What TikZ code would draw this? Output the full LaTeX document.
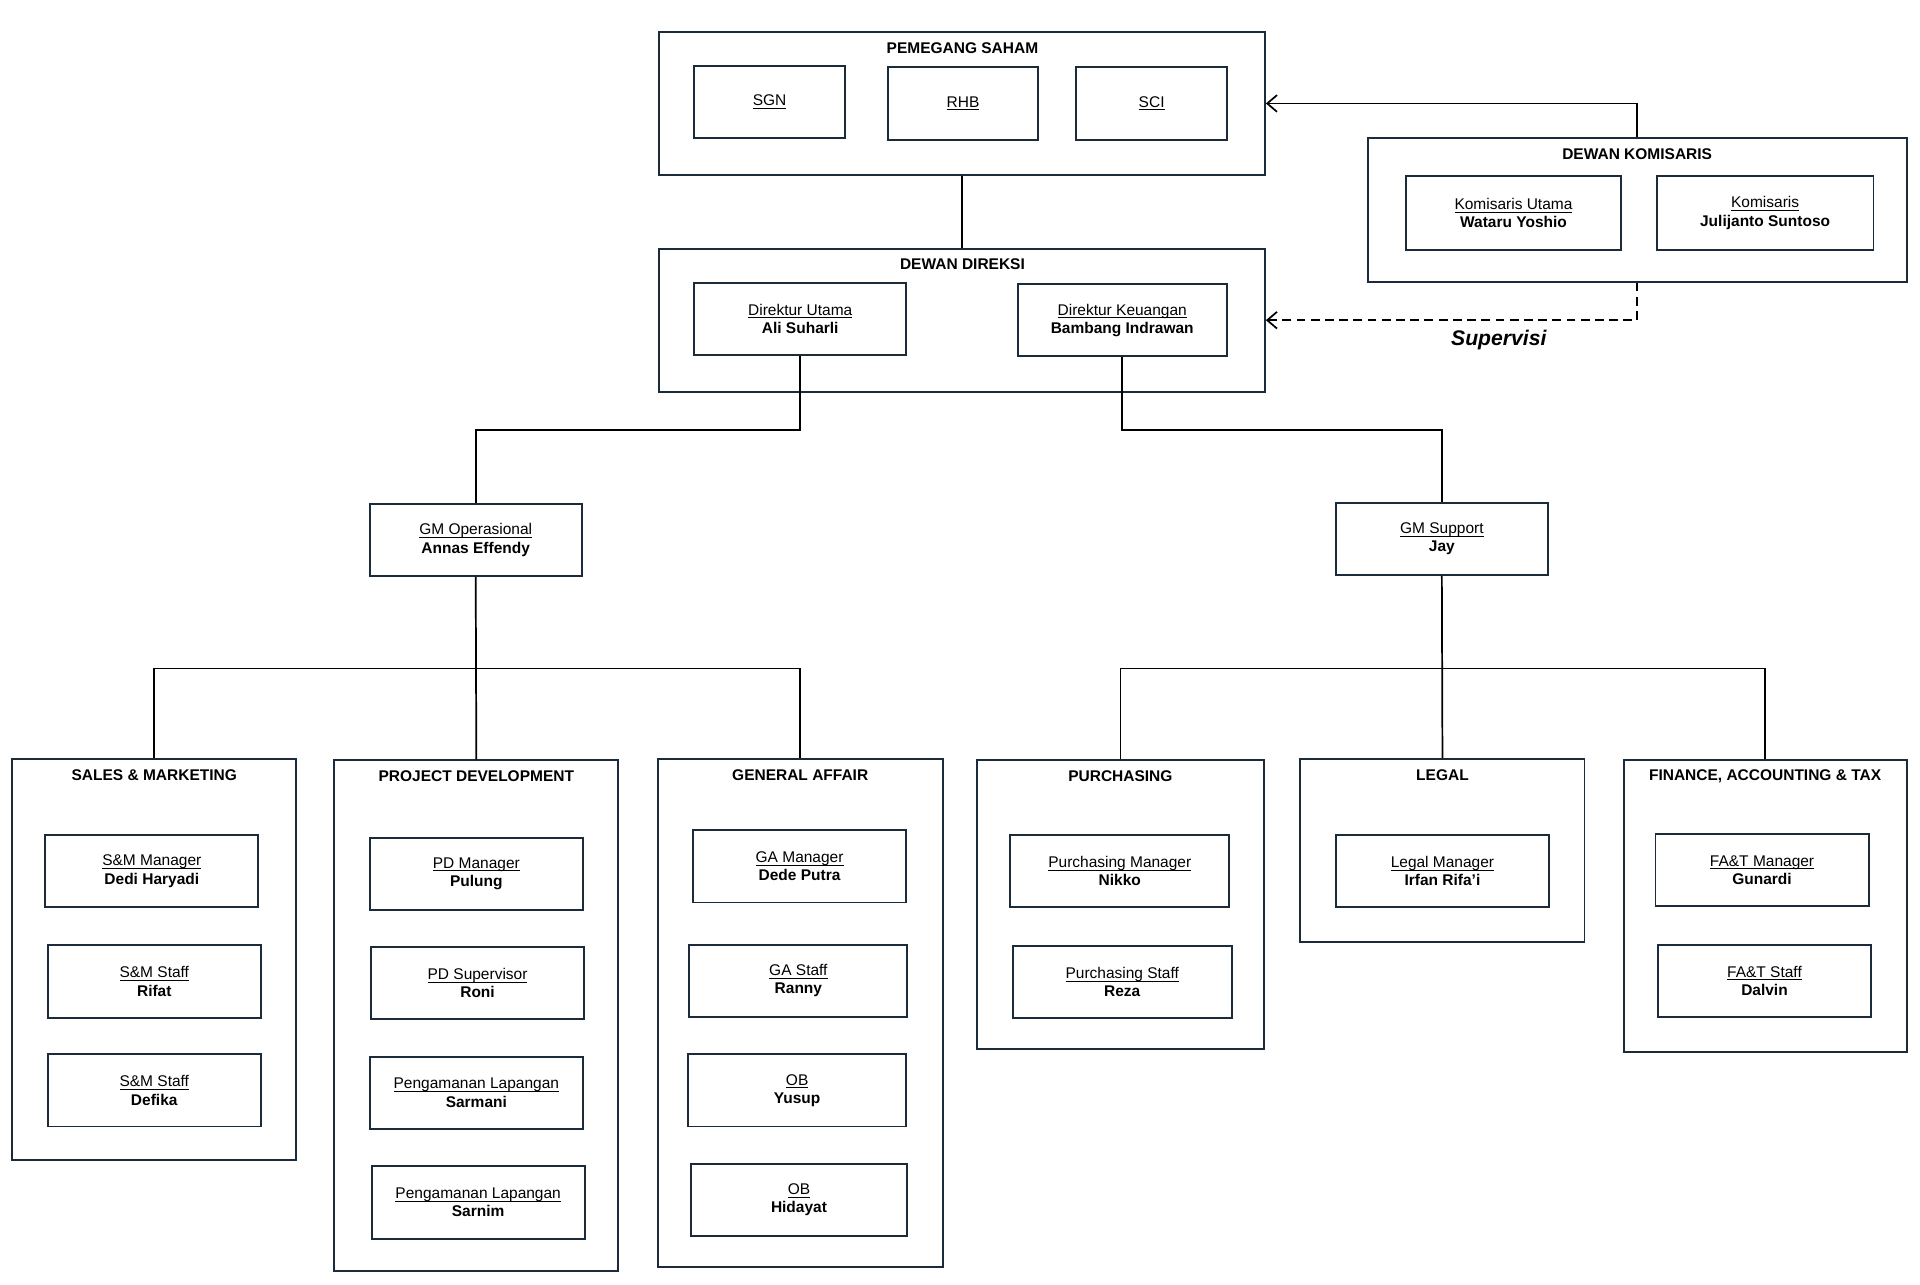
\documentclass[tikz,border=0pt]{standalone}
\usepackage{fontspec}
\setmainfont{Liberation Sans}
\usetikzlibrary{arrows.meta, positioning, calc}
\definecolor{boxline}{HTML}{1C2B3A}
\newcommand{\flatul}[1]{\underline{\raisebox{0pt}[\height][0pt]{#1}}}
\newcommand{\staff}[2]{\flatul{#1}\\\textbf{#2}}

\begin{document}
\begin{tikzpicture}[x=0.25mm, y=-0.25mm,
  grp/.style={draw=boxline, line width=1.1pt, inner sep=0pt},
  unit/.style={draw=boxline, line width=1.1pt, minimum width=43.5mm, minimum height=14.75mm,
    inner sep=0pt, align=center, font=\fontsize{9}{10.6}\selectfont},
  grptitle/.style={font=\bfseries\fontsize{9}{10.6}\selectfont},
  link/.style={black, line width=1pt},
  tip/.style={-{Straight Barb[length=2mm, width=3.4mm]}},
]
\useasboundingbox[fill=white] (0,0) rectangle (1568,1049);

% Pemegang saham
\node[grp, minimum width=123.75mm, minimum height=29.25mm] (ps) at (785.5,84.5) {};
\node[grptitle] (pst) at (786,39) {PEMEGANG SAHAM};
\node[unit, minimum width=30.75mm] (sgn) at (628.5,83.5) {\flatul{SGN}};
\node[unit, minimum width=30.75mm] (rhb) at (786.5,84.5) {\flatul{RHB}};
\node[unit, minimum width=30.75mm] (sci) at (940.5,84.5) {\flatul{SCI}};

% Dewan direksi
\node[grp, minimum width=123.75mm, minimum height=29.25mm] (dd) at (785.5,261.5) {};
\node[grptitle] (ddt) at (786,216) {DEWAN DIREKSI};
\node[unit, minimum width=43.25mm] (dirut) at (653.5,260.5) {\staff{Direktur Utama}{Ali Suharli}};
\node[unit, minimum width=42.75mm] (dirkeu) at (916.5,261.5) {\staff{Direktur Keuangan}{Bambang Indrawan}};

% Dewan komisaris
\node[grp, minimum width=110mm, minimum height=29.25mm] (dk) at (1337,171.5) {};
\node[grptitle] (dkt) at (1337,126) {DEWAN KOMISARIS};
\node[unit, minimum width=44mm, minimum height=15mm] (komut) at (1236,174) {\staff{Komisaris Utama}{Wataru Yoshio}};
\node[unit, minimum width=44.25mm, minimum height=15mm] (kom) at (1441.5,174) {\staff{Komisaris}{Julijanto Suntoso}};

% General manager
\node[unit, minimum width=43.25mm] (gmop) at (388.5,441) {\staff{GM Operasional}{Annas Effendy}};
\node[unit, minimum width=43.25mm] (gmsup) at (1177.5,440) {\staff{GM Support}{Jay}};

% Divisi operasional
\node[grp, minimum width=58mm, minimum height=81.75mm] (sm) at (126,783.5) {};
\node[grptitle] (smt) at (126,633) {SALES \& MARKETING};
\node[unit] (sm1) at (124,711.5) {\staff{S\&M Manager}{Dedi Haryadi}};
\node[unit] (sm2) at (126,801.5) {\staff{S\&M Staff}{Rifat}};
\node[unit] (sm3) at (126,890.5) {\staff{S\&M Staff}{Defika}};

\node[grp, minimum width=58mm, minimum height=104.25mm] (pd) at (389,829.5) {};
\node[grptitle] (pdt) at (389,634) {PROJECT DEVELOPMENT};
\node[unit] (pd1) at (389,713.5) {\staff{PD Manager}{Pulung}};
\node[unit] (pd2) at (390,803) {\staff{PD Supervisor}{Roni}};
\node[unit] (pd3) at (389,892.5) {\staff{Pengamanan Lapangan}{Sarmani}};
\node[unit] (pd4) at (390.5,982) {\staff{Pengamanan Lapangan}{Sarnim}};

\node[grp, minimum width=58.25mm, minimum height=103.75mm] (ga) at (653.5,827.5) {};
\node[grptitle] (gat) at (653.5,633) {GENERAL AFFAIR};
\node[unit] (ga1) at (653,707.5) {\staff{GA Manager}{Dede Putra}};
\node[unit, minimum width=44.5mm] (ga2) at (652,801) {\staff{GA Staff}{Ranny}};
\node[unit, minimum width=44.5mm] (ga3) at (651,890.5) {\staff{OB}{Yusup}};
\node[unit, minimum width=44.25mm] (ga4) at (652.5,980) {\staff{OB}{Hidayat}};

% Divisi support
\node[grp, minimum width=58.5mm, minimum height=59mm] (pu) at (915,739) {};
\node[grptitle] (put) at (915,634) {PURCHASING};
\node[unit, minimum width=44.75mm] (pu1) at (914.5,711.5) {\staff{Purchasing Manager}{Nikko}};
\node[unit, minimum width=44.75mm] (pu2) at (916.5,802) {\staff{Purchasing Staff}{Reza}};

\node[grp, minimum width=58mm, minimum height=37.25mm] (lg) at (1178,694.5) {};
\node[grptitle] (lgt) at (1178,633) {LEGAL};
\node[unit] (lg1) at (1178,711.5) {\staff{Legal Manager}{Irfan Rifa'i}};

\node[grp, minimum width=57.75mm, minimum height=59.5mm] (fa) at (1441.5,740) {};
\node[grptitle] (fat) at (1441.5,634) {FINANCE, ACCOUNTING \& TAX};
\node[unit] (fa1) at (1439,710.5) {\staff{FA\&T Manager}{Gunardi}};
\node[unit] (fa2) at (1441,801) {\staff{FA\&T Staff}{Dalvin}};

% Garis
\draw[link] (ps.south) -- (dd.north);
\draw[link, tip] (dk.north) |- (ps.east);
\draw[link, tip, dash pattern=on 1.8mm off 1.1mm] (dk.south) |- (dd.east);
\node[font=\bfseries\itshape\fontsize{12.3}{14}\selectfont] (sup) at (1224,278) {Supervisi};

\draw[link] (dirut.south) -- ++(0,60.5) -| (gmop.north);
\draw[link] (dirkeu.south) -- ++(0,59.5) -| (gmsup.north);

\coordinate (opbus) at (389,546);
\coordinate (supbus) at (1178,546);
\draw[link] (gmop.south) -- (pd.north);
\draw[link] (sm.north) |- (opbus) -| (ga.north);
\draw[link] (gmsup.south) -- (lg.north);
\draw[link] (pu.north) |- (supbus) -| (fa.north);
\end{tikzpicture}
\end{document}
